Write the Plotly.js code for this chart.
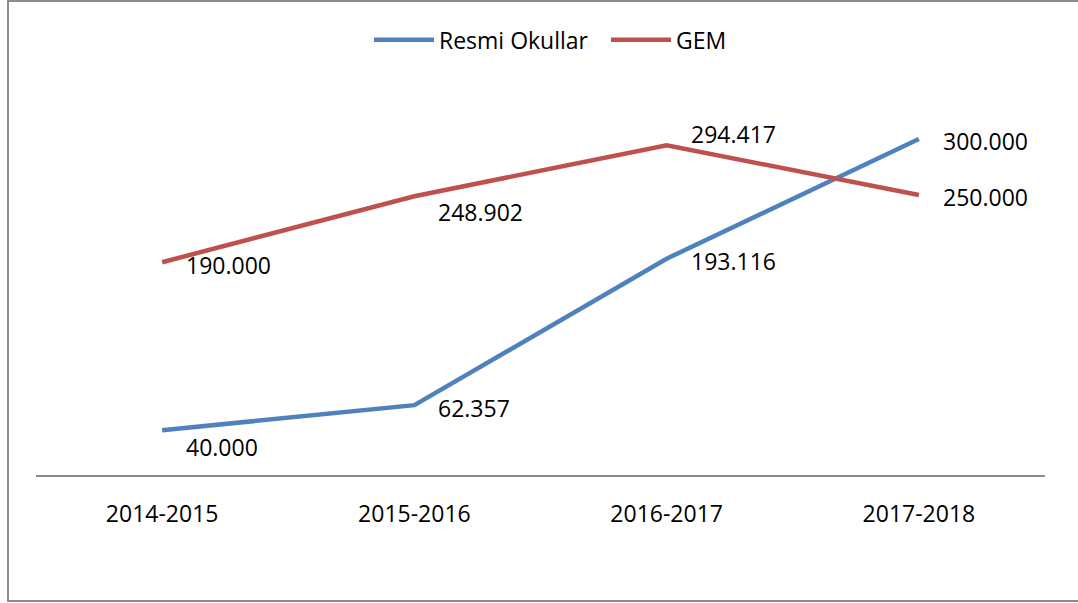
<!DOCTYPE html>
<html>
<head>
<meta charset="utf-8">
<script src="https://cdn.plot.ly/plotly-3.0.1.min.js"></script>
<style>
  html, body { margin: 0; padding: 0; background: #fff; }
  #chart { width: 1078px; height: 603px; }
</style>
</head>
<body>
<div id="chart"></div>
<script>
const categories = ["2014-2015", "2015-2016", "2016-2017", "2017-2018"];
const resmiValues = [40000, 62357, 193116, 300000];
const gemValues = [190000, 248902, 294417, 250000];
const seriesNames = ["Resmi Okullar", "GEM"];

// label vertical offsets (px), style only
const resmiLabelShift = [-17, -3, -2, -2];
const gemLabelShift = [-3, -16, 11, -2];

const FONT = "'Open Sans', 'Noto Sans', sans-serif";
const blue = "#4F81BD";
const red = "#C0504D";

function fmt(v) {
  return String(v).replace(/\B(?=(\d{3})+(?!\d))/g, ".");
}

const xIdx = categories.map((_, i) => i);

const traces = [
  { x: xIdx, y: resmiValues, name: seriesNames[0], type: "scatter", mode: "lines",
    line: { color: blue, width: 4.5 }, hoverinfo: "skip" },
  { x: xIdx, y: gemValues, name: seriesNames[1], type: "scatter", mode: "lines",
    line: { color: red, width: 4.5 }, hoverinfo: "skip" }
];

const annotations = [];
function addLabels(vals, shifts) {
  vals.forEach((v, i) => {
    annotations.push({
      x: i, y: v, xref: "x", yref: "y", text: fmt(v), showarrow: false,
      xanchor: "left", yanchor: "middle", xshift: 22, yshift: shifts[i],
      font: { family: FONT, size: 23, color: "#000" }
    });
  });
}
addLabels(resmiValues, resmiLabelShift);
addLabels(gemValues, gemLabelShift);

const layout = {
  width: 1078, height: 603,
  margin: { l: 36, r: 33, t: 83, b: 128 },
  paper_bgcolor: "#fff", plot_bgcolor: "#fff",
  font: { family: FONT, size: 23, color: "#000" },
  showlegend: true,
  legend: {
    orientation: "h", x: (369 - 36) / 1009, xanchor: "left", y: 1.11, yanchor: "middle",
    font: { family: FONT, size: 23, color: "#000" },
    itemwidth: 60, entrywidth: 162, entrywidthmode: "pixels",
    tracegroupgap: 0, bgcolor: "rgba(0,0,0,0)"
  },
  xaxis: {
    type: "linear", range: [-0.5, 3.5],
    tickmode: "array", tickvals: xIdx, ticktext: categories,
    showgrid: false, zeroline: false, showline: true,
    linecolor: "#8c8c8c", linewidth: 1.5, ticks: "",
    ticklabelstandoff: 18,
    tickfont: { family: FONT, size: 23, color: "#000" },
    fixedrange: true
  },
  yaxis: {
    range: [0, 350000], showgrid: false, zeroline: false, showline: false,
    showticklabels: false, ticks: "", fixedrange: true
  },
  annotations: annotations,
  shapes: [{
    type: "rect", xref: "paper", yref: "paper",
    x0: (8 - 36) / 1009, x1: (1090 - 36) / 1009,
    y0: (475 - 601) / 392, y1: (475 - 1) / 392,
    line: { color: "#8c8c8c", width: 2 }, fillcolor: "rgba(0,0,0,0)", layer: "below"
  }]
};

Plotly.newPlot("chart", traces, layout, { staticPlot: true, displayModeBar: false });
</script>
</body>
</html>
